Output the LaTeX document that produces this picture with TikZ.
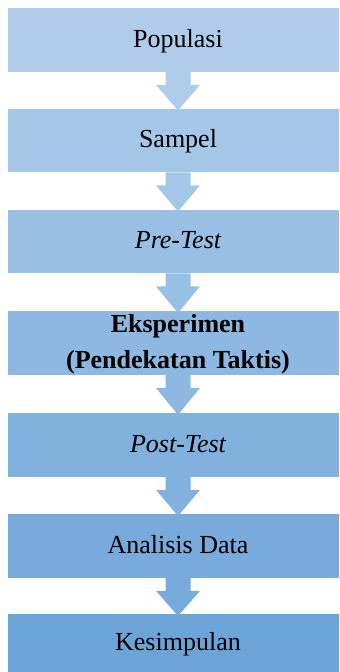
\documentclass[tikz,border=0pt]{standalone}
\usepackage{fontspec}
\setmainfont{Liberation Serif}
\usetikzlibrary{calc}
\definecolor{c1}{HTML}{AFCDEA}
\definecolor{c2}{HTML}{A4C6E7}
\definecolor{c3}{HTML}{99BFE4}
\definecolor{c4}{HTML}{8EB8E1}
\definecolor{c5}{HTML}{83B1DE}
\definecolor{c6}{HTML}{78AADB}
\definecolor{c7}{HTML}{6DA4D8}
\begin{document}
\begin{tikzpicture}[x=1bp,y=-1bp,
  boxstyle/.style={draw=none,fill=#1,rectangle,minimum width=331bp,minimum height=63.5bp,inner sep=0pt,anchor=north west},
  txt/.style={font=\fontsize{26bp}{36bp}\selectfont,inner sep=0pt,text height=20bp,text depth=5bp},
  txtm/.style={font=\fontsize{26bp}{36bp}\selectfont\bfseries,inner sep=0pt,align=center}]
\useasboundingbox (0,0) rectangle (339,672);
\coordinate (ax) at (178,0);
\node[boxstyle=c1] (b1) at (8,8) {};
\node[boxstyle=c2] (b2) at (8,108.5) {};
\node[boxstyle=c3] (b3) at (8,209.5) {};
\node[boxstyle=c4] (b4) at (8,311) {};
\node[boxstyle=c5] (b5) at (8,413) {};
\node[boxstyle=c6] (b6) at (8,514) {};
\node[boxstyle=c7,minimum height=58bp] (b7) at (8,614) {};
\node[txt] (t1) at (b1.center -| ax) {Populasi};
\node[txt] (t2) at (b2.center -| ax) {Sampel};
\node[txt] (t3) at (b3.center -| ax) {\itshape Pre-Test};
\node[txtm] (t4) at ($(b4.center -| ax)+(0,1)$) {Eksperimen\\(Pendekatan Taktis)};
\node[txt] (t5) at (b5.center -| ax) {\itshape Post-Test};
\node[txt] (t6) at (b6.center -| ax) {Analisis Data};
\node[txt] (t7) at (b7.center -| ax) {Kesimpulan};
\foreach \a/\b/\c in {b1/b2/c1, b2/b3/c2, b3/b4/c3, b4/b5/c4, b5/b6/c5, b6/b7/c6}{
  \fill[\c] ($(\a.south -| ax)+(-12.5,0)$) -- ++(0,13) -- ++(-9.5,0)
    -- ($(\b.north -| ax)+(0,2)$)
    -- ($(\a.south -| ax)+(22,13)$) -- ++(-9.5,0) -- ++(0,-13) -- cycle;
}
\end{tikzpicture}
\end{document}
